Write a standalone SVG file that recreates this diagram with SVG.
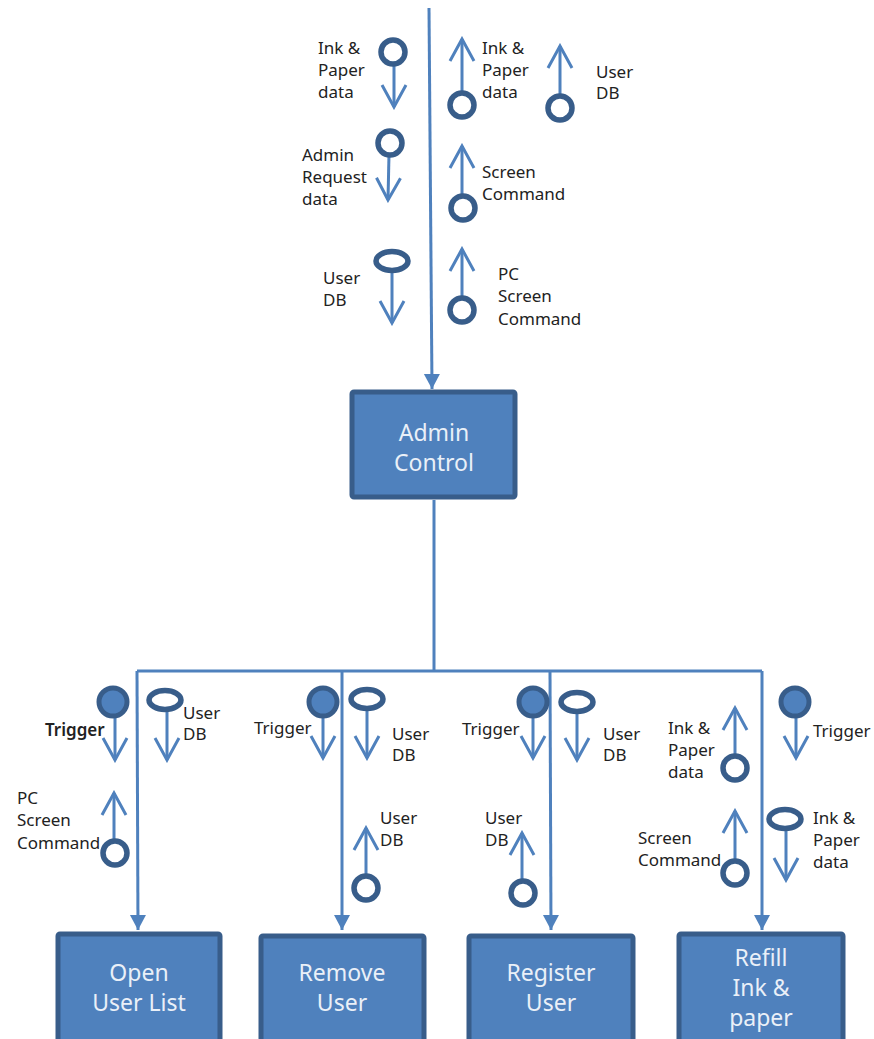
<svg xmlns="http://www.w3.org/2000/svg" width="874" height="1039" viewBox="0 0 874 1039">
<style>
.box{fill:#4f81bd;stroke:#385d8a;stroke-width:5}
.bt{font-family:"Noto Sans","Open Sans",sans-serif;font-size:23px;fill:#eaf0f8;text-anchor:middle}
.lb{font-family:"Noto Sans","Open Sans",sans-serif;font-size:17px;fill:#222}
.cn{fill:none;stroke:#4f81bd;stroke-width:3}
.da{fill:none;stroke:#4f81bd;stroke-width:3;marker-end:url(#open)}
.oc{fill:#fff;stroke:#385d8a;stroke-width:5.5}
.fc{fill:#4f81bd;stroke:#385d8a;stroke-width:5}
</style>
<defs>
<marker id="open" viewBox="-24 -14 27 28" refX="0" refY="0" markerWidth="27" markerHeight="28" markerUnits="userSpaceOnUse" orient="auto">
<path d="M-22,-12 L0,0 L-22,12" fill="none" stroke="#4f81bd" stroke-width="3"/>
</marker>
<marker id="tri" viewBox="-16 -9 17 18" refX="0" refY="0" markerWidth="17" markerHeight="18" markerUnits="userSpaceOnUse" orient="auto">
<path d="M-15,-8 L0,0 L-15,8 Z" fill="#4f81bd"/>
</marker>
</defs>

<g id="connectors">
<path class="cn" d="M429,8 L432,389" marker-end="url(#tri)"/>
<path class="cn" d="M434,500 L434,671"/>
<path class="cn" d="M137,671 L762,671"/>
<path class="cn" d="M137,671 L138,930" marker-end="url(#tri)"/>
<path class="cn" d="M342,671 L342,930" marker-end="url(#tri)"/>
<path class="cn" d="M550,671 L551,930" marker-end="url(#tri)"/>
<path class="cn" d="M762,671 L762,930" marker-end="url(#tri)"/>
</g>

<g id="admin-control">
<rect class="box" x="352" y="392" width="163" height="105" rx="2"/>
<text class="bt" x="434" y="441">Admin</text>
<text class="bt" x="434" y="471">Control</text>
</g>
<g id="open-user-list">
<rect class="box" x="58" y="934" width="162" height="110" rx="2"/>
<text class="bt" x="139" y="981">Open</text>
<text class="bt" x="139" y="1011">User List</text>
</g>
<g id="remove-user">
<rect class="box" x="261" y="936" width="163" height="108" rx="2"/>
<text class="bt" x="342" y="981">Remove</text>
<text class="bt" x="342" y="1011">User</text>
</g>
<g id="register-user">
<rect class="box" x="469" y="936" width="164" height="108" rx="2"/>
<text class="bt" x="551" y="981">Register</text>
<text class="bt" x="551" y="1011">User</text>
</g>
<g id="refill-ink-paper">
<rect class="box" x="679" y="934" width="164" height="110" rx="2"/>
<text class="bt" x="761" y="966">Refill</text>
<text class="bt" x="761" y="996">Ink &amp;</text>
<text class="bt" x="761" y="1026">paper</text>
</g>

<g id="top-ink-paper-in">
<path class="da" d="M394,64 L394,107"/>
<circle class="oc" cx="393" cy="52" r="12"/>
<text class="lb" x="318" y="54">Ink &amp;</text>
<text class="lb" x="318" y="76">Paper</text>
<text class="lb" x="318" y="98">data</text>
</g>
<g id="top-admin-request">
<path class="da" d="M389,154 L388,200"/>
<circle class="oc" cx="390" cy="143" r="12"/>
<text class="lb" x="302" y="161">Admin</text>
<text class="lb" x="302" y="183">Request</text>
<text class="lb" x="302" y="205">data</text>
</g>
<g id="top-userdb-in">
<path class="da" d="M392,270 L392,323"/>
<ellipse class="oc" cx="392" cy="261" rx="16" ry="9.5"/>
<text class="lb" x="323" y="284">User</text>
<text class="lb" x="323" y="306">DB</text>
</g>
<g id="top-ink-paper-out">
<path class="da" d="M462,94 L462,39"/>
<circle class="oc" cx="462" cy="105" r="12"/>
<text class="lb" x="482" y="54">Ink &amp;</text>
<text class="lb" x="482" y="76">Paper</text>
<text class="lb" x="482" y="98">data</text>
</g>
<g id="top-userdb-out">
<path class="da" d="M560,97 L560,46"/>
<circle class="oc" cx="560" cy="108" r="12"/>
<text class="lb" x="596" y="78">User</text>
<text class="lb" x="596" y="99">DB</text>
</g>
<g id="top-screen-command">
<path class="da" d="M462,197 L462,146"/>
<circle class="oc" cx="463" cy="208" r="12"/>
<text class="lb" x="482" y="178">Screen</text>
<text class="lb" x="482" y="200">Command</text>
</g>
<g id="top-pc-screen-command">
<path class="da" d="M462,299 L462,249"/>
<circle class="oc" cx="462" cy="310" r="12"/>
<text class="lb" x="498" y="280">PC</text>
<text class="lb" x="498" y="302">Screen</text>
<text class="lb" x="498" y="325">Command</text>
</g>

<g id="b1-trigger">
<path class="da" d="M115,716 L115,760"/>
<circle class="fc" cx="113" cy="702" r="14"/>
<text class="lb" x="45" y="736" style="font-weight:600">Trigger</text>
</g>
<g id="b1-userdb">
<path class="da" d="M167,710 L167,760"/>
<ellipse class="oc" cx="165" cy="700" rx="16" ry="9.5"/>
<text class="lb" x="183" y="719">User</text>
<text class="lb" x="183" y="740">DB</text>
</g>
<g id="b1-pc-screen-command">
<path class="da" d="M114,842 L114,793"/>
<circle class="oc" cx="115" cy="853" r="12"/>
<text class="lb" x="17" y="804">PC</text>
<text class="lb" x="17" y="826">Screen</text>
<text class="lb" x="17" y="849">Command</text>
</g>

<g id="b2-trigger">
<path class="da" d="M323,716 L323,758"/>
<circle class="fc" cx="323" cy="702" r="14"/>
<text class="lb" x="254" y="734">Trigger</text>
</g>
<g id="b2-userdb">
<path class="da" d="M367,709 L367,758"/>
<ellipse class="oc" cx="367" cy="699" rx="16" ry="9.5"/>
<text class="lb" x="392" y="740">User</text>
<text class="lb" x="392" y="761">DB</text>
</g>
<g id="b2-userdb-out">
<path class="da" d="M366,877 L366,828"/>
<circle class="oc" cx="366" cy="888" r="12"/>
<text class="lb" x="380" y="824">User</text>
<text class="lb" x="380" y="846">DB</text>
</g>

<g id="b3-trigger">
<path class="da" d="M533,716 L533,758"/>
<circle class="fc" cx="533" cy="702" r="14"/>
<text class="lb" x="462" y="735">Trigger</text>
</g>
<g id="b3-userdb">
<path class="da" d="M577,711 L577,760"/>
<ellipse class="oc" cx="577" cy="702" rx="16" ry="9.5"/>
<text class="lb" x="603" y="740">User</text>
<text class="lb" x="603" y="761">DB</text>
</g>
<g id="b3-userdb-out">
<path class="da" d="M522,882 L522,833"/>
<circle class="oc" cx="523" cy="893" r="12"/>
<text class="lb" x="485" y="824">User</text>
<text class="lb" x="485" y="846">DB</text>
</g>

<g id="b4-ink-paper-out">
<path class="da" d="M735,757 L735,708"/>
<circle class="oc" cx="735" cy="768" r="12"/>
<text class="lb" x="668" y="734">Ink &amp;</text>
<text class="lb" x="668" y="756">Paper</text>
<text class="lb" x="668" y="778">data</text>
</g>
<g id="b4-screen-command">
<path class="da" d="M735,862 L735,811"/>
<circle class="oc" cx="735" cy="873" r="12"/>
<text class="lb" x="638" y="844">Screen</text>
<text class="lb" x="638" y="866">Command</text>
</g>
<g id="b4-trigger">
<path class="da" d="M796,716 L796,758"/>
<circle class="fc" cx="795" cy="702" r="14"/>
<text class="lb" x="813" y="737">Trigger</text>
</g>
<g id="b4-ink-paper-in">
<path class="da" d="M786,829 L786,880"/>
<ellipse class="oc" cx="785" cy="819" rx="16" ry="9.5"/>
<text class="lb" x="813" y="824">Ink &amp;</text>
<text class="lb" x="813" y="846">Paper</text>
<text class="lb" x="813" y="868">data</text>
</g>
</svg>
